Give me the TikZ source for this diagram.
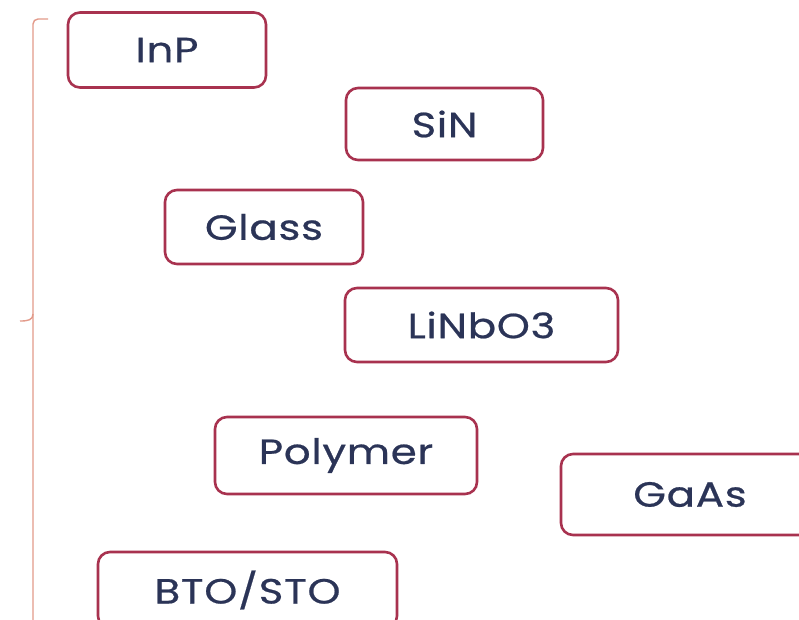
\documentclass[tikz,border=0pt]{standalone}
\usepackage{fontspec}
\setmainfont{Poppins}
\newfontfamily\labelfont[FakeStretch=1.2, LetterSpace=2, FakeBold=0.6]{Poppins}
\definecolor{boxedge}{HTML}{A8324F}
\definecolor{boxtext}{HTML}{2B3457}
\definecolor{bracecol}{HTML}{E39A8A}
\begin{document}
\begin{tikzpicture}[x=1pt,y=-1pt,
  material/.style={draw=boxedge, line width=2.6pt, rounded corners=12pt, fill=white,
    text=boxtext, font=\labelfont\fontsize{35}{40}\selectfont, inner sep=0pt,
    anchor=center},
]
\useasboundingbox (0,0) rectangle (799,619);
\clip (0,0) rectangle (799,619);
\fill[white] (0,0) rectangle (799,619);

% grouping brace on the left
\draw[bracecol, line width=1.4pt, rounded corners=5pt]
  (48,19) -- (33,19) -- (33,640);
\draw[bracecol, line width=1.4pt] (20,321) .. controls (28,321) and (33,320) .. (33,314);

% material boxes
\node[material, minimum width=198pt, minimum height=75pt] (inp) at (167,50) {InP};
\node[material, minimum width=197pt, minimum height=72pt] (sin) at (444.5,124) {SiN};
\node[material, minimum width=198pt, minimum height=74pt] (glass) at (264,227) {Glass};
\node[material, minimum width=273pt, minimum height=74pt] (linbo) at (481.5,325) {LiNbO3};
\node[material, minimum width=262pt, minimum height=77pt] (poly) at (346,455.5) {Polymer};
\node[material, minimum width=258pt, minimum height=81pt] (gaas) at (690,494.5) {GaAs};
\node[material, minimum width=299pt, minimum height=76pt] (bto) at (247.5,590) {BTO/STO};
\end{tikzpicture}
\end{document}
